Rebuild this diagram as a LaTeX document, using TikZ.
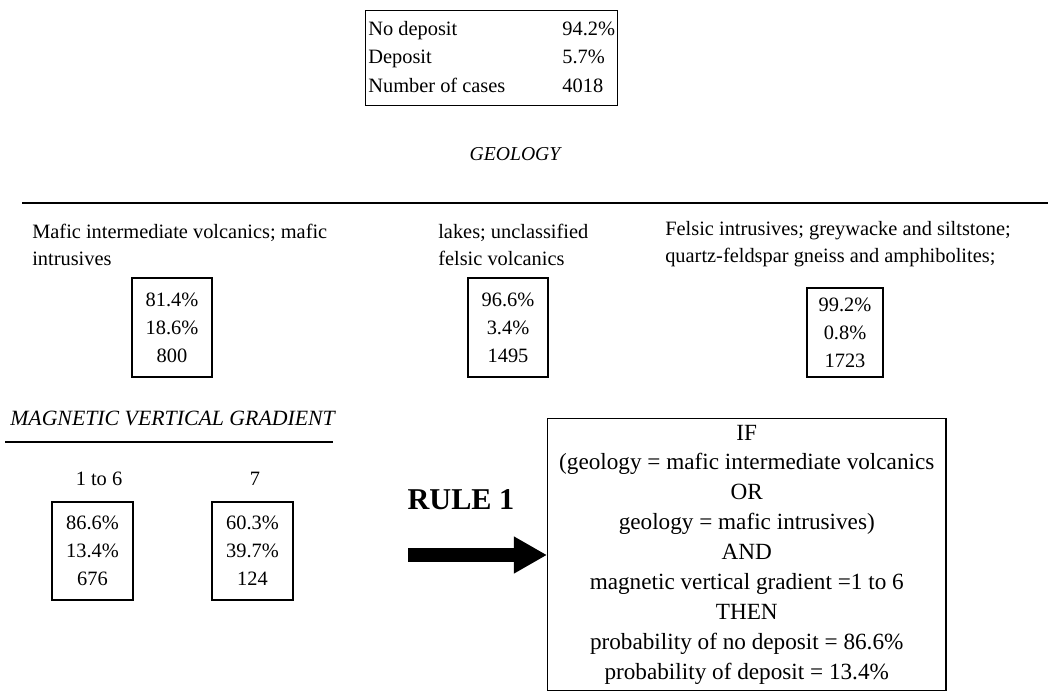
\documentclass[tikz,border=0pt]{standalone}
\usepackage{fontspec}
\setmainfont{Liberation Serif}
\usetikzlibrary{arrows.meta, positioning}

\begin{document}
\begin{tikzpicture}[x=0.025cm, y=-0.025cm,
  cell/.style={draw, line width=1pt, align=center, inner sep=0pt},
  small/.style={cell, minimum width=2cm, minimum height=2.47cm,
                font=\fontsize{14.5}{19.9}\selectfont},
  large/.style={cell, minimum width=2.02cm, minimum height=2.45cm,
                font=\fontsize{14.5}{19.9}\selectfont},
  cat/.style={anchor=west, align=left, inner sep=0pt,
              font=\fontsize{14.5}{19.2}\selectfont},
  head/.style={inner sep=0pt, font=\itshape\fontsize{15}{18}\selectfont},
  rule line/.style={line width=1.3pt},
  bigarrow/.style={-{Triangle[length=0.83cm, width=0.87cm]}, line width=0.37cm}
]
  \useasboundingbox (0,0) rectangle (1048,691);

  % overall proportions
  \node[cell, anchor=north west, minimum width=6.3cm, minimum height=2.37cm,
        font=\fontsize{14.5}{20.2}\selectfont] (prior) at (365,10)
    {\begin{tabular}{@{}p{4.85cm}@{}l@{}}
       No deposit & 94.2\% \\
       Deposit & 5.7\% \\
       Number of cases & 4018
     \end{tabular}};

  \node[head, font=\itshape\fontsize{14}{17}\selectfont] (geo) at (515,154) {GEOLOGY};
  \draw[rule line] (22,203) -- (1048,203);

  % geology classes
  \node[cat] (mafic)  at (32,244.5)  {Mafic intermediate volcanics; mafic\\intrusives};
  \node[cat] (lakes)  at (438,244.5) {lakes; unclassified\\felsic volcanics};
  \node[cat] (felsic) at (665,244.5) {Felsic intrusives; greywacke and siltstone;\\quartz-feldspar gneiss and amphibolites;};

  \node[small] (mafic_b)  at (172,327.5) {81.4\%\\18.6\%\\800};
  \node[small] (lakes_b)  at (508,327.5) {96.6\%\\3.4\%\\1495};
  \node[small, minimum width=1.9cm, minimum height=2.22cm] (felsic_b) at (845,332.5)
    {99.2\%\\0.8\%\\1723};

  % magnetic vertical gradient
  \node[head, anchor=west, font=\itshape\fontsize{15.5}{18}\selectfont] (mag) at (10,418)
    {MAGNETIC VERTICAL GRADIENT};
  \draw[rule line] (5,442) -- (333,442);

  \node[cat, anchor=center] (low)  at (99,479)  {1 to 6};
  \node[cat, anchor=center] (high) at (255,479) {7};

  \node[large] (low_b)  at (92.5,551)  {86.6\%\\13.4\%\\676};
  \node[large] (high_b) at (252.5,551) {60.3\%\\39.7\%\\124};

  % resulting rule
  \node[font=\bfseries\fontsize{21.5}{26}\selectfont] (rulelabel) at (461,500) {RULE 1};

  \node[cell, anchor=north west, minimum width=9.95cm, minimum height=6.8cm,
        font=\fontsize{16.5}{21.3}\selectfont] (rule) at (547,418)
    {IF\\
     (geology = mafic intermediate volcanics\\
     OR\\
     geology = mafic intrusives)\\
     AND\\
     magnetic vertical gradient =1 to 6\\
     THEN\\
     probability of no deposit = 86.6\%\\
     probability of deposit = 13.4\%};

  \coordinate (tail) at (408,555);
  \draw[bigarrow] (tail) -- (tail -| rule.west);
\end{tikzpicture}
\end{document}
